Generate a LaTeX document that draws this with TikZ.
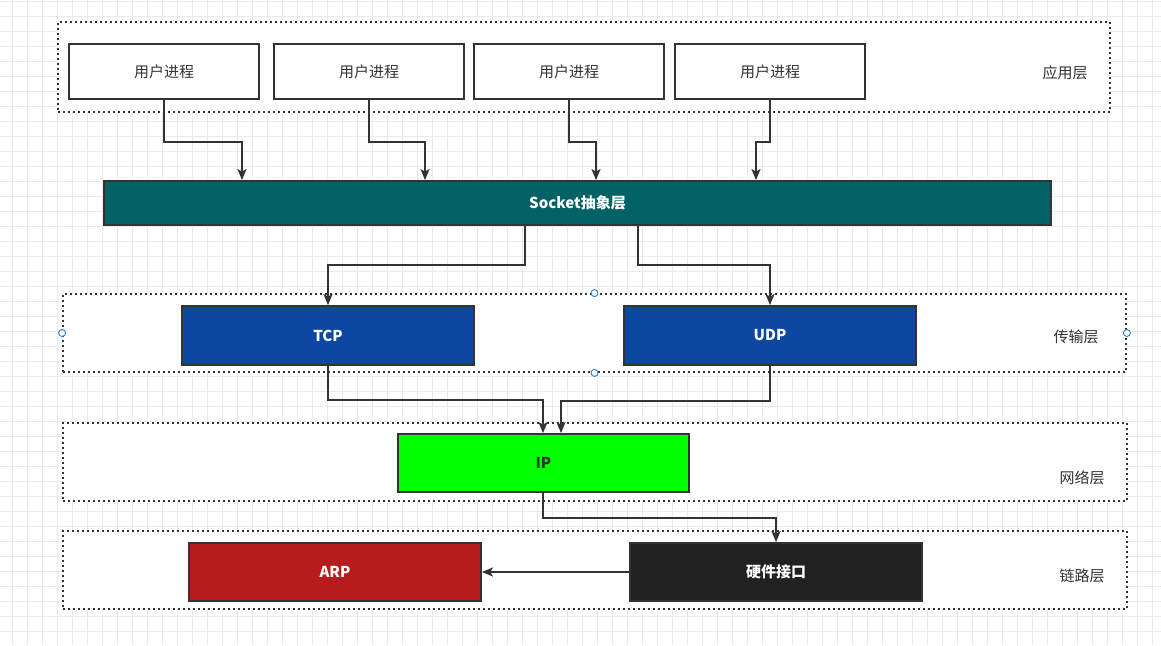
\documentclass[tikz,border=0pt]{standalone}
\usepackage{fontspec}
\usepackage{xcolor}
\usepackage{tikz}
\usetikzlibrary{arrows.meta,positioning}
\newfontfamily\cjk{Noto Sans CJK SC}
\definecolor{linegray}{HTML}{333333}
\definecolor{gridgray}{HTML}{EAEAEA}
\definecolor{sockteal}{HTML}{036266}
\definecolor{tcpblue}{HTML}{0D47A1}
\definecolor{ipgreen}{HTML}{00FF00}
\definecolor{arpred}{HTML}{B71C1C}
\definecolor{hwblack}{HTML}{212121}
\definecolor{handleblue}{HTML}{1A82F0}

\begin{document}
\begin{tikzpicture}[x=1pt,y=-1pt,
  layer/.style={draw=linegray,fill=white,line width=1.8pt,dash pattern=on 1.8pt off 3.2pt},
  proc/.style={draw=linegray,fill=white,line width=1.8pt,minimum width=190pt,minimum height=55pt,font=\cjk\fontsize{15}{17}\selectfont,text=linegray},
  proto/.style={draw=linegray,line width=1.8pt,minimum width=292pt,minimum height=58pt,font=\cjk\bfseries\fontsize{15}{17}\selectfont,text=white},
  lname/.style={font=\cjk\fontsize{15}{17}\selectfont,text=linegray},
  handle/.style={draw=handleblue,fill=white,circle,line width=0.9pt,inner sep=0pt,minimum size=7pt},
  arr/.style={-{Stealth[length=11pt,width=9pt,inset=2.5pt]},line width=1.7pt,linegray}
]
  \useasboundingbox (0,0) rectangle (1161,645);
  \foreach \gx in {12.7,27.7,...,1161} \draw[gridgray,line width=0.8pt] (\gx,0) -- (\gx,645);
  \foreach \gy in {1.7,16.7,...,645} \draw[gridgray,line width=0.8pt] (0,\gy) -- (1161,\gy);

  \node[layer,minimum width=1052pt,minimum height=90pt] (applayer) at (584,67) {};
  \node[layer,minimum width=1063pt,minimum height=78pt] (translayer) at (594.5,333) {};
  \node[layer,minimum width=1064pt,minimum height=78pt] (netlayer) at (595,462) {};
  \node[layer,minimum width=1064pt,minimum height=78pt] (linklayer) at (595,570) {};

  \node[lname] (applbl) at (1065,73) {应用层};
  \node[lname] (translbl) at (1076,337) {传输层};
  \node[lname] (netlbl) at (1082,478) {网络层};
  \node[lname] (linklbl) at (1082,576) {链路层};

  \node[proc] (p0) at (164,71.5) {用户进程};
  \node[proc] (p1) at (369,71.5) {用户进程};
  \node[proc] (p2) at (569,71.5) {用户进程};
  \node[proc] (p3) at (770,71.5) {用户进程};

  \node[proto,fill=sockteal,minimum width=947pt,minimum height=44pt] (sock) at (577.5,203) {Socket抽象层};
  \node[proto,fill=tcpblue,minimum height=59pt] (tcp) at (328,335.5) {TCP};
  \node[proto,fill=tcpblue,minimum height=59pt] (udp) at (770,335.5) {UDP};
  \node[proto,fill=ipgreen,text=linegray,minimum width=291pt] (ip) at (543.5,463) {IP};
  \node[proto,fill=arpred] (arp) at (335,572) {ARP};
  \node[proto,fill=hwblack] (hw) at (776,572) {硬件接口};

  \foreach \a in {north,south,east,west}
    \node[handle] at (translayer.\a) {};

  \draw[arr] (p0.south) -- ++(0,42) -| ([xshift=-335.5pt]sock.north);
  \draw[arr] (p1.south) -- ++(0,42) -| ([xshift=-152.5pt]sock.north);
  \draw[arr] (p2.south) -- ++(0,42) -| ([xshift=18.5pt]sock.north);
  \draw[arr] (p3.south) -- ++(0,42) -| ([xshift=178.5pt]sock.north);
  \draw[arr] ([xshift=-52.5pt]sock.south) -- ++(0,39) -| (tcp.north);
  \draw[arr] ([xshift=60.5pt]sock.south) -- ++(0,39) -| (udp.north);
  \draw[arr] (tcp.south) -- ++(0,34) -| ([xshift=-0.5pt]ip.north);
  \draw[arr] (udp.south) -- ++(0,35) -| ([xshift=17.5pt]ip.north);
  \draw[arr] ([xshift=-0.5pt]ip.south) -- ++(0,25) -| (hw.north);
  \draw[arr] (hw.west) -- (arp.east);
\end{tikzpicture}
\end{document}
